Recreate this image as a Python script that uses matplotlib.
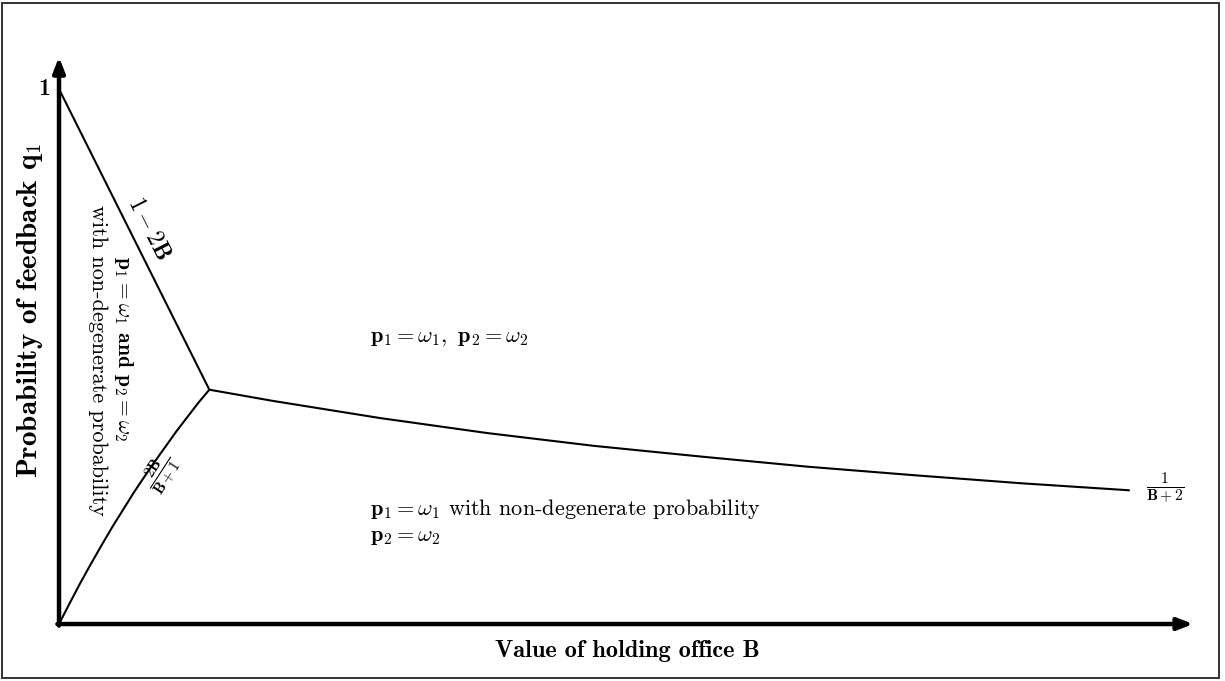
import matplotlib
matplotlib.use("Agg")
import matplotlib.pyplot as plt
from matplotlib.patches import Rectangle

plt.rcParams['mathtext.fontset'] = 'cm'
plt.rcParams['font.family'] = ['cmr10', 'DejaVu Serif']
plt.rcParams['axes.formatter.use_mathtext'] = True

# boundaries of the regions
upper_B = [0.0, 0.281]
upper_q = [1.0, 0.438]

lower_B = [0.0, 0.02, 0.04, 0.06, 0.08, 0.10, 0.12, 0.14, 0.16, 0.18, 0.20, 0.22, 0.24, 0.26, 0.281]
lower_q = [0.0, 0.039, 0.077, 0.113, 0.148, 0.182, 0.214, 0.246, 0.276, 0.305, 0.333, 0.361, 0.387, 0.413, 0.438]

right_B = [0.281, 0.4, 0.6, 0.8, 1.0, 1.2, 1.4, 1.6, 1.8, 2.0]
right_q = [0.438, 0.417, 0.385, 0.357, 0.333, 0.313, 0.294, 0.278, 0.263, 0.25]

x_max = 2.12
y_max = 1.06

fig = plt.figure(figsize=(12.25, 6.81), dpi=100)
ax = fig.add_axes([0, 0, 1, 1])
ax.set_xlim(-0.1103, 2.1794)
ax.set_ylim(-0.1065, 1.1664)
ax.axis('off')

# frame round the picture
fig.patches.append(Rectangle((2 / 1225, 3 / 681), 1217 / 1225, 675 / 681,
                             transform=fig.transFigure, fill=False,
                             edgecolor='#333333', linewidth=1.4))

# axes with arrows
arrow = dict(arrowstyle='-|>,head_length=0.9,head_width=0.35', lw=3.2,
             color='black', shrinkA=0, shrinkB=0)
ax.annotate('', xy=(x_max, 0), xytext=(-0.003, 0), arrowprops=arrow)
ax.annotate('', xy=(0, y_max), xytext=(0, -0.003), arrowprops=arrow)

# curves
ax.plot(upper_B, upper_q, color='black', lw=1.5, solid_capstyle='round')
ax.plot(lower_B, lower_q, color='black', lw=1.5, solid_capstyle='round')
ax.plot(right_B, right_q, color='black', lw=1.5, solid_capstyle='round')

fs = 16
ax.text(-0.017, 1.0, '1', family='cmb10', fontsize=17, ha='right', va='center')

ax.text(0.168, 0.740, r'$\mathbf{1-2B}$', fontsize=17, rotation=-63,
        ha='center', va='center', rotation_mode='anchor')
ax.text(0.1925, 0.282, r'$\frac{\mathbf{2B}}{\mathbf{B+1}}$', fontsize=16,
        rotation=57, ha='center', va='center', rotation_mode='anchor')

ax.text(0.12, 0.514, r'$\mathbf{p_1} = \omega_\mathbf{1}$ $\mathbf{and}$ $\mathbf{p_2} = \omega_\mathbf{2}$',
        fontsize=15.5, rotation=-90, ha='center', va='center')
ax.text(0.072, 0.492, 'with non-degenerate probability', fontsize=fs,
        rotation=-90, ha='center', va='center')

ax.text(0.581, 0.535, r'$\mathbf{p_1} = \omega_\mathbf{1}\mathbf{,}\;\;\mathbf{p_2} = \omega_\mathbf{2}$',
        fontsize=fs, ha='left', va='center')
ax.text(0.581, 0.215, r'$\mathbf{p_1} = \omega_\mathbf{1}$ with non-degenerate probability',
        fontsize=fs, ha='left', va='center')
ax.text(0.581, 0.163, r'$\mathbf{p_2} = \omega_\mathbf{2}$',
        fontsize=fs, ha='left', va='center')

ax.text(2.067, 0.253, r'$\frac{\mathbf{1}}{\mathbf{B+2}}$', fontsize=16,
        ha='center', va='center')

ax.text(-0.054, 0.587, 'Probability of feedback q$_\\mathbf{1}$', family='cmb10',
        fontsize=21, rotation=90, ha='center', va='center')
ax.text(1.062, -0.05, 'Value of holding office B', family='cmb10',
        fontsize=17.5, ha='center', va='center')

fig.savefig('out.png', dpi=100)
